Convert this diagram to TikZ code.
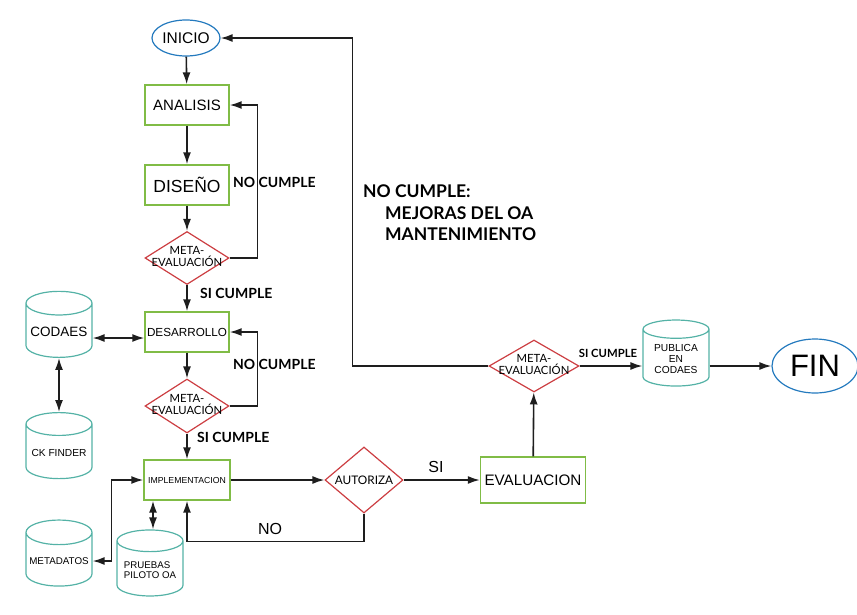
\documentclass[tikz,border=0pt]{standalone}
\usepackage{fontspec}
\setmainfont{Liberation Sans}
\newfontfamily\latofont{Lato}
\usepackage{tikz}
\usetikzlibrary{arrows.meta,calc,positioning,shapes.geometric}

\definecolor{boxgreen}{RGB}{128,188,70}
\definecolor{dbteal}{RGB}{84,178,166}
\definecolor{decred}{RGB}{204,62,66}
\definecolor{endblue}{RGB}{36,122,190}
\definecolor{linegray}{RGB}{30,30,30}

\newcommand{\fs}[1]{\fontsize{#1}{#1}\selectfont}

\begin{document}
\begin{tikzpicture}[
      x=1pt, y=-1pt,
      stepbox/.style={draw=boxgreen, line width=1.4pt, minimum width=84pt,
        minimum height=40pt, align=center, inner sep=2pt},
      decision/.style={diamond, draw=decred, line width=1.2pt, inner sep=0pt,
        minimum width=84pt, minimum height=53pt, align=center,
        font=\latofont\fs{11.3}},
      database/.style={cylinder, shape border rotate=90, draw=dbteal,
        line width=1.2pt, aspect=0.4, minimum width=66pt, minimum height=66pt,
        align=center, inner sep=1pt},
      terminal/.style={ellipse, draw=endblue, line width=1.2pt, inner sep=0pt},
      cond/.style={font=\latofont\bfseries\fs{14}, inner sep=0pt},
      arrow/.style={-{Latex[length=12pt,width=8pt]}, line width=1.6pt, draw=linegray},
      twoway/.style={{Latex[length=12pt,width=8pt]}-{Latex[length=12pt,width=8pt]},
        line width=1.6pt, draw=linegray}
    ]
    \useasboundingbox (0,0) rectangle (857,614);

    % main column
    \node[terminal, minimum width=68pt, minimum height=36pt, font=\fs{15.5}]
      (inicio) at (186,38) {INICIO};
    \node[stepbox, font=\fs{15}] (analisis) at (187,105) {ANALISIS};
    \node[stepbox, font=\fs{17.5}] (diseno) at (187,185) {DISEÑO};
    \node[decision] (meta1) at (187,258)
      {\makebox[0pt]{\begin{tabular}{@{}c@{}}META-\\[-2pt]EVALUACIÓN\end{tabular}}};
    \node[stepbox, font=\fs{11.7}] (desarrollo) at (187,332) {DESARROLLO};
    \node[decision, minimum height=54pt] (meta2) at (187,406)
      {\makebox[0pt]{\begin{tabular}{@{}c@{}}META-\\[-2pt]EVALUACIÓN\end{tabular}}};
    \node[stepbox, minimum width=86pt, font=\fs{8.7}] (impl) at (187,480)
      {IMPLEMENTACION};

    % data stores
    \node[database, font=\fs{13.5}] (codaes) at (59,332) {CODAES};
    \node[database, font=\fs{10.2}] (ckfinder) at (59,453) {CK FINDER};
    \node[database, font=\fs{9.8}] (metadatos) at (59,561) {METADATOS};
    \node[database, font=\fs{9.7}, align=left] (pruebas) at (150,570)
      {PRUEBAS\\PILOTO OA};

    % right part
    \node[decision, minimum width=78pt, minimum height=66pt,
      font=\latofont\fs{11.8}] (autoriza) at (364,480) {\makebox[0pt]{AUTORIZA}};
    \node[stepbox, minimum width=105pt, minimum height=46pt, font=\fs{15.2}]
      (evaluacion) at (533,480) {EVALUACION};
    \node[decision, minimum width=90pt, minimum height=52pt] (meta3) at (534,366)
      {\makebox[0pt]{\begin{tabular}{@{}c@{}}META-\\[-2pt]EVALUACIÓN\end{tabular}}};
    \node[database, font=\fs{10.2}] (publica) at (676,359)
      {PUBLICA\\[1pt]EN\\[1pt]CODAES};
    \node[terminal, minimum width=86pt, minimum height=54pt, font=\fs{31}]
      (fin) at (815,366) {FIN};

    % labels
    \node[cond, anchor=west] (nocumple1) at (233,182) {NO CUMPLE};
    \node[cond, anchor=west] (sicumple1) at (200,293) {SI CUMPLE};
    \node[cond, anchor=west] (nocumple2) at (233,364) {NO CUMPLE};
    \node[cond, anchor=west] (sicumple2) at (197,437) {SI CUMPLE};
    \node[font=\fs{16}, inner sep=0pt] (si) at (436,467) {SI};
    \node[font=\fs{16}, inner sep=0pt] (no) at (270,529) {NO};
    \node[cond, font=\latofont\bfseries\fs{11.3}] (sicumple3) at (608,353) {SI CUMPLE};
    \node[cond, font=\latofont\bfseries\fontsize{17.5}{21.5}\selectfont,
      align=left, anchor=north west] (mejoras) at (363,185)
      {NO CUMPLE:\\\hspace*{22pt}MEJORAS DEL OA\\\hspace*{22pt}MANTENIMIENTO};

    % connectors
    \draw[arrow] (inicio) -- (analisis);
    \draw[arrow] (analisis) -- (diseno);
    \draw[arrow] (diseno) -- (meta1);
    \draw[arrow] (meta1.east) -- ++(28,0) |- (analisis.east);
    \draw[arrow] (meta1) -- (desarrollo);
    \draw[arrow] (desarrollo) -- (meta2);
    \draw[arrow] (meta2.east) -- ++(28,0) |- (desarrollo.east);
    \draw[arrow] (meta2) -- (impl);
    \draw[twoway] ([yshift=-6pt]codaes.east) -- ([yshift=-6pt]desarrollo.west);
    \draw[twoway] (codaes) -- (ckfinder);
    \draw[twoway] (metadatos.east) -- ++(19,0) |- (impl.west);
    \draw[twoway] ([xshift=3pt]pruebas.north |- impl.south) -- ([xshift=3pt]pruebas.north);
    \draw[arrow] (impl) -- (autoriza);
    \draw[arrow] (autoriza) -- (evaluacion);
    \draw[arrow] (autoriza.south) -- ++(0,28) -| (impl.south);
    \draw[arrow] (evaluacion) -- (meta3);
    \draw[arrow] (meta3.west) -- ++(-136,0) |- (inicio.east);
    \draw[arrow] (meta3) -- (publica.west |- meta3);
    \draw[arrow] (publica.east |- fin) -- (fin);
  \end{tikzpicture}
\end{document}
